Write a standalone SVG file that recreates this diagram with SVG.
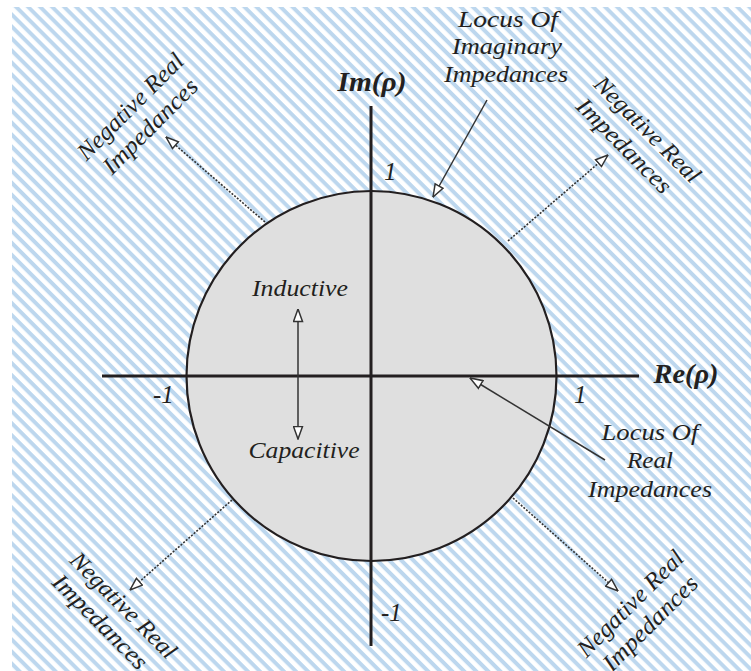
<svg xmlns="http://www.w3.org/2000/svg" width="751" height="671" viewBox="0 0 751 671">
<style>
.lbl{font-family:"Liberation Serif","Times New Roman",serif;font-style:italic;font-size:24px;fill:#231f20;text-anchor:middle}
.ax{font-family:"Liberation Serif","Times New Roman",serif;font-style:italic;font-weight:bold;font-size:27px;fill:#231f20;text-anchor:middle}
.num{font-family:"Liberation Serif","Times New Roman",serif;font-style:italic;font-size:25px;fill:#231f20}
.axis{stroke:#231f20;stroke-width:3;fill:none}
.arr{stroke:#333;stroke-width:1.5;fill:none}
.dot{stroke:#333;stroke-width:1.6;stroke-dasharray:2 1.5;fill:none}
</style>
<defs>
<pattern id="hatch" patternUnits="userSpaceOnUse" width="8.5" height="8.5" patternTransform="rotate(45)">
<rect width="8.5" height="4" fill="#bdd7ee"/>
</pattern>
<marker id="tri" viewBox="0 0 14 11" refX="13.5" refY="5.5" markerWidth="14" markerHeight="11" markerUnits="userSpaceOnUse" orient="auto-start-reverse">
<path d="M1,1 L13.5,5.5 L1,10 Z" fill="#fff" stroke="#333" stroke-width="1.5"/>
</marker>
</defs>
<rect x="0" y="0" width="751" height="671" fill="#fff"/>
<rect x="12" y="7" width="739" height="664" fill="url(#hatch)"/>

<g id="chart">
<circle cx="371.5" cy="376" r="185" fill="#dfdfdf" stroke="#231f20" stroke-width="2.2"/>
</g>

<g id="axes">
<line class="axis" x1="102" y1="376" x2="639" y2="376"/>
<line class="axis" x1="371" y1="106" x2="371" y2="646"/>
</g>

<g id="connectors">
<line class="arr" x1="298" y1="309" x2="298" y2="439" marker-start="url(#tri)" marker-end="url(#tri)"/>
<line class="arr" x1="487" y1="100" x2="433" y2="197" marker-end="url(#tri)"/>
<line class="arr" x1="605" y1="460" x2="470" y2="378" marker-end="url(#tri)"/>
<line class="dot" x1="265" y1="222" x2="166" y2="137" marker-end="url(#tri)"/>
<line class="dot" x1="508" y1="241" x2="608" y2="155" marker-end="url(#tri)"/>
<line class="dot" x1="232" y1="500" x2="130" y2="590" marker-end="url(#tri)"/>
<line class="dot" x1="513" y1="498" x2="618" y2="591" marker-end="url(#tri)"/>
</g>

<g id="im-label"><text class="ax" x="372" y="91" textLength="69" lengthAdjust="spacingAndGlyphs">Im(ρ)</text></g>
<g id="re-label"><text class="ax" x="686" y="383" textLength="65" lengthAdjust="spacingAndGlyphs">Re(ρ)</text></g>

<g id="ticks">
<text class="num" x="384" y="180">1</text>
<text class="num" x="574" y="403">1</text>
<text class="num" x="153" y="403">-1</text>
<text class="num" x="381" y="621">-1</text>
</g>

<g id="inductive"><text class="lbl" x="300" y="296" textLength="96" lengthAdjust="spacingAndGlyphs">Inductive</text></g>
<g id="capacitive"><text class="lbl" x="304" y="458" textLength="111" lengthAdjust="spacingAndGlyphs">Capacitive</text></g>

<g id="locus-imaginary">
<text class="lbl" x="508" y="27" textLength="100" lengthAdjust="spacingAndGlyphs">Locus Of</text>
<text class="lbl" x="507" y="54" textLength="110" lengthAdjust="spacingAndGlyphs">Imaginary</text>
<text class="lbl" x="506" y="82" textLength="124" lengthAdjust="spacingAndGlyphs">Impedances</text>
</g>

<g id="locus-real">
<text class="lbl" x="650" y="440" textLength="97" lengthAdjust="spacingAndGlyphs">Locus Of</text>
<text class="lbl" x="650" y="468" textLength="46" lengthAdjust="spacingAndGlyphs">Real</text>
<text class="lbl" x="650" y="497" textLength="124" lengthAdjust="spacingAndGlyphs">Impedances</text>
</g>

<g id="neg-tl" transform="translate(136,112) rotate(-45)">
<text class="lbl" x="0" y="0" textLength="140" lengthAdjust="spacingAndGlyphs">Negative Real</text>
<text class="lbl" x="0" y="28" textLength="124" lengthAdjust="spacingAndGlyphs">Impedances</text>
</g>
<g id="neg-tr" transform="translate(642,135) rotate(45)">
<text class="lbl" x="0" y="0" textLength="140" lengthAdjust="spacingAndGlyphs">Negative Real</text>
<text class="lbl" x="-5" y="28" textLength="124" lengthAdjust="spacingAndGlyphs">Impedances</text>
</g>
<g id="neg-bl" transform="translate(118,611) rotate(45)">
<text class="lbl" x="0" y="0" textLength="140" lengthAdjust="spacingAndGlyphs">Negative Real</text>
<text class="lbl" x="-5" y="28" textLength="124" lengthAdjust="spacingAndGlyphs">Impedances</text>
</g>
<g id="neg-br" transform="translate(636,609) rotate(-45)">
<text class="lbl" x="0" y="0" textLength="140" lengthAdjust="spacingAndGlyphs">Negative Real</text>
<text class="lbl" x="0" y="28" textLength="124" lengthAdjust="spacingAndGlyphs">Impedances</text>
</g>
</svg>
